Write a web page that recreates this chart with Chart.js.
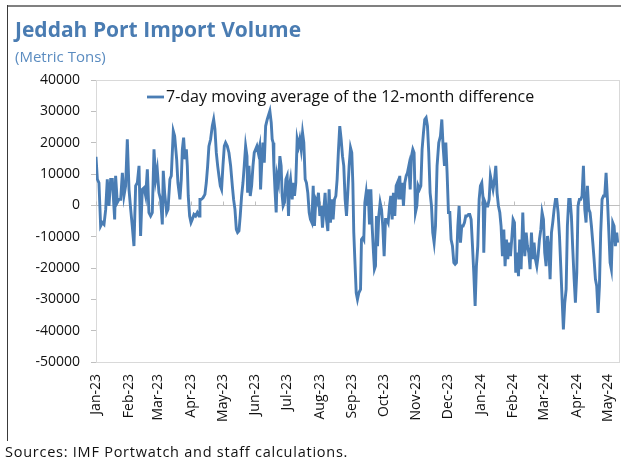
<!DOCTYPE html>
<html>
<head>
<meta charset="utf-8">
<title>Jeddah Port Import Volume</title>
<script src="https://cdn.jsdelivr.net/npm/chart.js@4.4.1/dist/chart.umd.min.js"></script>
<style>
  body { margin: 0; background: #fff; font-family: "Open Sans", sans-serif; }
  #wrap { position: relative; width: 629px; height: 462px; overflow: hidden; }
  #chart { position: absolute; left: 0; top: 0; }
  .txt { position: absolute; line-height: 1; white-space: nowrap; z-index: 2; }
  #title { left: 15px; top: 19px; font-size: 21px; font-weight: 700; color: #4a7cb2; }
  #sub { left: 15px; top: 49px; font-size: 15px; color: #5b8cc0; }
  #src { left: 5px; top: 445px; font-size: 14.5px; letter-spacing: 0.75px; color: #111; }
</style>
</head>
<body>
<div id="wrap">
  <canvas id="chart" width="629" height="462"></canvas>
  <div class="txt" id="title">Jeddah Port Import Volume</div>
  <div class="txt" id="sub">(Metric Tons)</div>
  <div class="txt" id="src">Sources: IMF Portwatch and staff calculations.</div>
</div>
<script>
// x = days since 1 Jan 2023
const monthStarts = [0, 31, 59, 90, 120, 151, 181, 212, 243, 273, 304, 334, 365, 396, 425, 456, 486];
const monthLabels = ["Jan-23", "Feb-23", "Mar-23", "Apr-23", "May-23", "Jun-23", "Jul-23", "Aug-23",
  "Sep-23", "Oct-23", "Nov-23", "Dec-23", "Jan-24", "Feb-24", "Mar-24", "Apr-24", "May-24"];
const yTicks = [-50000, -40000, -30000, -20000, -10000, 0, 10000, 20000, 30000, 40000];
const seriesLabel = "7-day moving average of the 12-month difference";

const dayOffset = [
  0, 1.3, 2.8, 4.4, 6.0, 7.6, 9.2, 10.7, 12.3, 13.9, 15.5, 17.7, 18.6, 20.2, 21.8, 23.4, 25.0, 26.5, 28.1, 29.7,
  31.3, 32.9, 34.4, 36.0, 37.6, 39.2, 40.8, 42.3, 43.9, 45.5, 47.1, 48.7, 50.2, 51.8, 53.4, 55.0, 56.6, 58.1, 59.7,
  61.3, 62.9, 63.8, 65.1, 67.0, 68.3, 70.1, 71.4, 73.3, 74.6, 76.5, 77.7, 79.6, 80.9,
  81.9, 83.1, 84.4, 85.7, 86.6, 87.5, 88.8, 90.1, 91.3, 92.9, 94.5, 96.1, 97.7, 98.6, 99.9, 101.5, 103.3, 104.6,
  105.9, 107.1, 108.7, 110.3, 111.6, 112.8, 114.1, 115.4, 116.6, 117.9, 119.1, 120.4, 121.7, 122.9, 124.5, 126.1,
  127.7, 129.3, 130.5, 131.8, 133.1, 134.3, 135.6, 136.8, 138.1, 139.4, 140.6, 141.9, 143.2, 143.8, 145.1, 146.3,
  147.6, 148.9, 150.1, 151.4, 152.6, 153.9, 155.2, 156.1, 157.1, 158.3, 159.6, 160.9, 162.4,
  164.9, 166.2, 167.1, 168.0, 168.7, 169.9, 170.9, 171.8, 173.1, 174.4, 175.6, 176.6, 177.5, 178.8, 180.1, 181.3,
  182.6, 183.5, 184.5, 186.1, 187.0, 188.3, 189.5, 190.8, 192.1, 193.3, 194.6, 195.9, 197.1, 198.4, 199.6, 200.9,
  202.2, 203.4, 204.7, 206.0, 207.2, 208.5, 209.8, 211.0, 212.3, 213.6, 214.8, 216.1, 217.3, 218.6, 219.9, 221.1,
  222.4, 223.7, 224.9, 226.2, 227.5, 228.7, 230.0, 231.2, 232.5, 233.8, 235.0, 236.3, 237.6, 238.8, 240.1, 241.4, 242.6,
  243.6, 244.5, 245.5, 246.8, 248.0, 249.3, 250.9, 251.8, 253.1, 254.0, 255.0, 256.2, 257.2, 258.1, 259.4, 260.7,
  261.9, 263.2, 264.1, 265.1, 266.0, 267.0, 268.2, 269.5, 270.8, 272.0, 273.3, 274.6, 275.8, 277.1, 278.4, 279.6,
  280.9, 282.1, 283.4, 284.7, 285.9, 287.2, 288.1, 289.1, 290.4, 291.6, 292.9, 294.2, 295.4, 296.7, 298.0, 299.2,
  300.5, 301.7, 303.0, 304.3, 305.5, 306.8, 308.1, 309.3, 310.6, 311.8, 313.1, 314.4, 315.6, 316.9, 318.2, 319.4,
  320.7, 322.0, 323.5,
  325.1, 326.7, 328.0, 329.2, 330.5, 331.8, 333.0, 334.3, 335.6, 336.8, 338.1, 339.4, 340.6, 341.9, 343.2, 344.4,
  345.7, 346.9, 348.2, 349.5, 350.7, 352.0, 353.3, 354.5, 355.8, 357.1, 358.3, 359.6, 360.8, 362.1, 363.4, 364.6,
  365.9, 367.2, 367.8, 369.1, 370.3, 371.6, 372.9, 374.1, 375.4, 376.6, 378.0, 379.2, 380.4, 381.7, 383.0, 384.2,
  385.5, 386.8, 388.0, 389.3, 390.6, 391.8, 393.1, 394.3, 395.6, 396.9, 398.1, 399.4, 400.7, 401.9, 403.2,
  404.8, 405.7, 406.7, 408.0, 409.2, 410.5, 411.7, 413.0, 414.3, 415.5, 416.8, 418.1, 419.3, 420.6, 421.9, 423.1,
  424.4, 425.6, 426.9, 428.2, 429.4, 430.7, 432.0, 433.2, 434.5, 435.8, 437.0, 438.3, 439.6, 440.8, 442.1, 443.3,
  444.6, 445.9, 447.1, 448.4, 449.7, 450.9, 452.2, 453.5, 454.7, 456.0, 457.2, 458.5, 459.8, 461.0, 462.3, 463.6,
  464.8, 466.1, 467.4, 468.6, 469.9, 471.2, 472.4, 473.7, 474.9, 476.2, 477.5, 478.7, 480.0, 481.3, 482.5, 483.8,
  485.1, 486.3, 487.6, 488.8, 490.1, 491.4, 492.6, 493.9, 494.8
];

const diff12m = [
  15500, 8300, 7200, -6600, -5500, -6100, -1300, 8300, -200, 8300, 8300, -4500, 9400, 900, 1900, 1900, 10400, 3000, 6200, 21100,
  5100, -1300, -6600, -13000, 6200, 7200, 12600, -9800, 5100, 5600, 3000, 11500, -2300, -3400, -2300, 17900, 8300, 11500, 4000,
  1900, -6100, 11000, 4000, -2300, -1300, 8300, 9400, 23700, 22100, 14700, 7200, 1900, 8300,
  17900, 21600, 14700, 17900, 12600, 3000, -3400, -5500, -4500, -2900, -3400, -2300, -3400, 1900, 1900, 2400, 3500, 7200,
  12600, 18900, 21100, 25300, 27400, 24300, 16800, 12600, 9400, 6200, 5100, 12600, 18900, 20000, 18900, 16800,
  12600, 6200, 1900, -1300, -7700, -8700, -8200, -3400, 3000, 7200, 12600, 18900, 15700, 4000, 12600, 3000,
  6200, 12600, 16800, 17900, 18900, 16800, 18900, 5100, 12600, 20000, 13600, 25300, 27400,
  30100, 26400, 21100, 20000, 12600, 4000, -2300, 9400, 7200, 15700, 12600, 3000, -200, 900, 8300, 9400,
  -3400, 6200, 8300, 1900, 7200, 3000, 7200, 21100, 18900, 21100, 17900, 23200, 20000, 8300, 7200, 4000,
  -2300, -4500, -5500, 6200, -6600, 1900, 900, 4000, -3400, -200, -7100, -1300, 4000, -4500, -8200, 5100,
  -5500, 1900, -4500, 1900, 3000, 8300, 17900, 25300, 21100, 15700, 12600, 1900, -3400, 4000, 12600, 18400, 16800,
  7200, -8700, -17200, -27900, -30000, -27900, -26800, -10900, -10300, -10900, 900, 4000, -200, 5100, -6100, 5100,
  -6600, -15100, -20400, -19400, -3400, -13000, -3400, 900, -1300, -6600, -16200, -4500, -4500, -5500, -200, 3000,
  -4500, 4000, -3400, 6200, 7200, 1900, 9400, 1900, 7200, -200, 7200, 9400, 10400, 12600, 5100, 15700,
  17900, 16800, -2300, -200, 6200, 5100, 6200, 17900, 23200, 27400, 28000, 25300, 16800, 4000, -200, -8700,
  -11900, -6600, 12600,
  20000, 22100, 27400, 18900, 12600, 20000, 10400, -2300, -2300, -10900, -13000, -18300, -18800, -18300, -6600, -200,
  -11900, -6600, -6600, -5500, -3400, -3400, -2900, -2900, -4500, -13000, -21500, -32100, -19400, -13000, 1900, 6200,
  7200, 1900, -15100, 900, -200, -200, 1900, 9400, 7200, 5100, 8300, 12600, 4000, -200, -2300, -6600,
  -16200, -7700, -19400, -10900, -17200, -11900, -16200, -10900, -4500, -5500, -21500, -15100, -22600, -10900, -20400,
  -2300, -10900, -16200, -8700, -13000, -15100, -20400, -8700, -17200, -11900, -17200, -19400, -16200, -10900, -7700, -2300,
  -4500, -15100, -19400, -9800, -13000, -23600, -8700, -5500, -1300, 1900, 1900, -2300, -9800, -19400, -30000, -39600,
  -31100, -26800, -6600, 1900, 1900, -3400, -14000, -23600, -31100, -21500, -200, 1900, 1900, 3000, 12600, -1300,
  -5500, 6200, -1300, -2300, -6600, -11900, -17200, -23600, -25700, -34300, -25700, -8700, 1900, 3000, 3000, 10400,
  1900, -7700, -18300, -20400, -5500, -6600, -13000, -8700, -11900
];

const LINE_COLOR = "#4a7db4";
const AXIS_COLOR = "#bfbfbf";

Chart.defaults.font.family = "'Open Sans', sans-serif";
Chart.defaults.color = "#111";

// outer frame, plot frame, zero axis with month tick marks, in-plot legend
const decor = {
  id: "decor",
  beforeDatasetsDraw(chart) {
    const { ctx, chartArea: a, scales: { x, y } } = chart;
    ctx.save();
    ctx.lineWidth = 1;
    ctx.strokeStyle = "#d9d9d9";
    ctx.strokeRect(a.left + 0.5, a.top + 0.5, a.right - a.left - 1, a.bottom - a.top);
    const y0 = Math.round(y.getPixelForValue(0)) + 0.5;
    ctx.strokeStyle = AXIS_COLOR;
    ctx.beginPath();
    ctx.moveTo(a.left, y0);
    ctx.lineTo(a.right, y0);
    monthStarts.forEach((d) => {
      const px = Math.round(x.getPixelForValue(d)) + 0.5;
      ctx.moveTo(px, y0);
      ctx.lineTo(px, y0 - 4);
    });
    ctx.stroke();
    ctx.restore();
  },
  afterDraw(chart) {
    const { ctx, chartArea: a } = chart;
    ctx.save();
    // figure frame (top + left edge)
    ctx.fillStyle = "#808080";
    ctx.fillRect(7, 5, a.right - 6, 2);
    ctx.fillStyle = "#3a3a3a";
    ctx.fillRect(7, 5, 1, 436);
    // legend
    const lx = a.left + 51;
    const ly = a.top + 17;
    ctx.strokeStyle = LINE_COLOR;
    ctx.lineWidth = 2.8;
    ctx.beginPath();
    ctx.moveTo(lx, ly);
    ctx.lineTo(lx + 17, ly);
    ctx.stroke();
    ctx.fillStyle = "#111";
    ctx.font = "16px 'Open Sans', sans-serif";
    ctx.textBaseline = "middle";
    ctx.fillText(seriesLabel, lx + 19, ly);
    ctx.restore();
  },
};

new Chart(document.getElementById("chart"), {
  type: "line",
  data: {
    datasets: [{
      label: seriesLabel,
      data: dayOffset.map((d, i) => ({ x: d, y: diff12m[i] })),
      borderColor: LINE_COLOR,
      borderWidth: 2.9,
      pointRadius: 0,
      tension: 0,
      fill: false,
    }],
  },
  options: {
    responsive: false,
    animation: false,
    devicePixelRatio: 1,
    layout: { padding: { top: 80, left: 0, right: 9, bottom: 0 } },
    plugins: { legend: { display: false }, tooltip: { enabled: false } },
    scales: {
      x: {
        type: "linear",
        min: 0,
        max: 497,
        grid: { display: false, drawTicks: false },
        border: { display: false },
        afterBuildTicks: (s) => { s.ticks = monthStarts.map((v) => ({ value: v })); },
        afterFit: (s) => { s.height = 100; s.paddingLeft = 0; s.paddingRight = 0; },
        ticks: {
          autoSkip: false,
          minRotation: 90,
          maxRotation: 90,
          padding: 12,
          font: { size: 14 },
          color: "#111",
          callback: (v) => monthLabels[monthStarts.indexOf(v)],
        },
      },
      y: {
        min: -50000,
        max: 40000,
        grid: { drawOnChartArea: false, drawTicks: true, tickLength: 5, color: AXIS_COLOR },
        border: { display: true, color: AXIS_COLOR },
        afterBuildTicks: (s) => { s.ticks = yTicks.map((v) => ({ value: v })); },
        afterFit: (s) => { s.width = 96; s.paddingTop = 0; s.paddingBottom = 0; },
        ticks: {
          padding: 11,
          font: { size: 14 },
          color: "#111",
          callback: (v) => String(v),
        },
      },
    },
  },
  plugins: [decor],
});
</script>
</body>
</html>
